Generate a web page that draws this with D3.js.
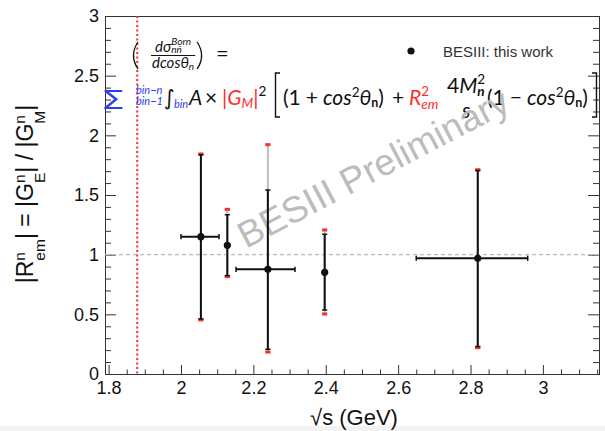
<!DOCTYPE html>
<html>
<head>
<meta charset="utf-8">
<script src="https://cdn.jsdelivr.net/npm/d3@7"></script>
<style>
  body { margin: 0; background: #fff; }
  svg { display: block; }
  text { white-space: pre; }
</style>
</head>
<body>
<svg id="chart" width="605" height="431"></svg>
<script>
// Ratio |G_E/G_M| of the neutron per energy bin
const energy    = [2.055, 2.128, 2.240, 2.397, 2.820];
const binLow    = [2.000, 2.128, 2.152, 2.397, 2.650];
const binHigh   = [2.105, 2.128, 2.315, 2.397, 2.958];
const ratio     = [1.151, 1.078, 0.877, 0.852, 0.970];
const statUp    = [0.686, 0.257, 0.665, 0.319, 0.735];
const statDown  = [0.690, 0.254, 0.670, 0.316, 0.740];
const totalUp   = [0.693, 0.302, 1.045, 0.355, 0.742];
const totalDown = [0.698, 0.262, 0.693, 0.349, 0.750];
const threshold = 1.8791;            // 2 m_n (GeV)
const xTicks = [1.8, 2, 2.2, 2.4, 2.6, 2.8, 3];
const yTicks = [0, 0.5, 1, 1.5, 2, 2.5, 3];
const legendLabel = "BESIII: this work";
const watermark = "BESIII Preliminary";

const points = energy.map((e, i) => ({
  e, lo: binLow[i], hi: binHigh[i], r: ratio[i],
  su: statUp[i], sd: statDown[i], tu: totalUp[i], td: totalDown[i]
}));

const svg = d3.select("#chart");
const x = d3.scaleLinear([1.79, 3.155], [105, 599]);
const y = d3.scaleLinear([0, 3], [374, 16]);
const sans = "'Liberation Sans', Arial, Helvetica, sans-serif";
const math = "Lato, 'Open Sans', 'DejaVu Sans', sans-serif";
const symb = "'DejaVu Sans', sans-serif";
const BLUE = "#2c3cf0", RED = "#ff2d2d", INK = "#111";

svg.append("rect").attr("x", 0).attr("y", 426).attr("width", 605).attr("height", 5).attr("fill", "#f3f3f3");

// ---- axes -------------------------------------------------------------
const xMinor = d3.range(0, 28).map(i => +(1.8 + 0.05 * i).toFixed(2)).filter(v => !xTicks.includes(v));
const yMinor = d3.range(0, 31).map(i => +(0.1 * i).toFixed(1)).filter(v => !yTicks.includes(v));

function styleAxis(g) {
  g.select(".domain").remove();
  g.selectAll(".tick line").attr("stroke", "#333");
  g.selectAll(".tick text").attr("font-family", sans).attr("font-size", 18).attr("fill", INK);
}

svg.append("g").attr("transform", `translate(0,${y(0)})`)
  .call(d3.axisBottom(x).tickValues(xMinor).tickSize(-4.5).tickFormat("")).call(styleAxis);
svg.append("g").attr("transform", `translate(0,${y(0)})`)
  .call(d3.axisBottom(x).tickValues(xTicks).tickSize(-9).tickPadding(7).tickFormat(d3.format("~g"))).call(styleAxis);

svg.append("g").attr("transform", `translate(${x.range()[0]},0)`)
  .call(d3.axisLeft(y).tickValues(yMinor).tickSize(-6).tickFormat("")).call(styleAxis);
svg.append("g").attr("transform", `translate(${x.range()[0]},0)`)
  .call(d3.axisLeft(y).tickValues(yTicks).tickSize(-11).tickPadding(6).tickFormat(d3.format("~g"))).call(styleAxis);

svg.append("g").attr("transform", `translate(${x.range()[1]},0)`)
  .call(d3.axisRight(y).tickValues(yMinor).tickSize(-6).tickFormat("")).call(styleAxis);
svg.append("g").attr("transform", `translate(${x.range()[1]},0)`)
  .call(d3.axisRight(y).tickValues(yTicks).tickSize(-11).tickFormat("")).call(styleAxis);

svg.append("rect")
  .attr("x", x.range()[0] + 0.5).attr("y", y(3) + 0.5)
  .attr("width", x.range()[1] - x.range()[0]).attr("height", y(0) - y(3))
  .attr("fill", "none").attr("stroke", "#333").attr("stroke-width", 1);

// ---- reference lines --------------------------------------------------
svg.append("line")
  .attr("x1", x.range()[0]).attr("x2", x.range()[1]).attr("y1", y(1)).attr("y2", y(1))
  .attr("stroke", "#bbb").attr("stroke-width", 1.2).attr("stroke-dasharray", "4,3");
svg.append("line")
  .attr("x1", x(threshold)).attr("x2", x(threshold)).attr("y1", y(3)).attr("y2", y(0))
  .attr("stroke", "#ff2a2a").attr("stroke-width", 2).attr("stroke-dasharray", "2,2.5");

// ---- a tiny math typesetter ------------------------------------------
// items flow left to right; `at` pins an item to an absolute x,
// `stack` places a script directly under/over the previous one,
// `sx` stretches a glyph horizontally.
function typeset(g, x0, y0, items) {
  let cx = x0, px = x0;
  for (const it of items) {
    if (it.at != null) cx = it.at;
    if (it.gap != null) { cx += it.gap; continue; }
    if (it.type === "bracket") {
      const w = 6, [t, b] = it.span;
      const d = it.side === "l"
        ? `M${cx + w},${y0 + t}H${cx + 1.5}V${y0 + b}H${cx + w}`
        : `M${cx},${y0 + t}H${cx + w - 1.5}V${y0 + b}H${cx}`;
      g.append("path").attr("d", d).attr("fill", "none").attr("stroke", INK).attr("stroke-width", 1.4);
      px = cx; cx += w; continue;
    }
    if (it.type === "paren") {
      const w = 8, [t, b] = it.span, m = (t + b) / 2;
      const d = it.side === "l"
        ? `M${cx + w - 1},${y0 + t}Q${cx - 2},${y0 + m} ${cx + w - 1},${y0 + b}`
        : `M${cx + 1},${y0 + t}Q${cx + w + 2},${y0 + m} ${cx + 1},${y0 + b}`;
      g.append("path").attr("d", d).attr("fill", "none").attr("stroke", INK).attr("stroke-width", 1.3);
      px = cx; cx += w; continue;
    }
    if (it.type === "frac") {
      const gn = g.append("g"), gd = g.append("g");
      const wn = typeset(gn, 0, y0 + it.numDy, it.num);
      const wd = typeset(gd, 0, y0 + it.denDy, it.den);
      const w = Math.max(wn, wd) + 2;
      gn.attr("transform", `translate(${cx + (w - wn) / 2},0)`);
      gd.attr("transform", `translate(${cx + (w - wd) / 2},0)`);
      if (it.bar) {
        g.append("line").attr("x1", cx).attr("x2", cx + w)
          .attr("y1", y0 + it.barDy).attr("y2", y0 + it.barDy)
          .attr("stroke", INK).attr("stroke-width", it.bar);
      }
      px = cx; cx += w; continue;
    }
    const t = g.append("text")
      .attr("font-family", it.fam || math)
      .attr("font-size", it.fs || 21)
      .attr("font-style", it.it ? "italic" : "normal")
      .attr("font-weight", it.b ? "bold" : "normal")
      .attr("fill", it.c || INK)
      .text(it.t);
    const sx = it.sx || 1;
    const w = t.node().getComputedTextLength() * sx;
    const tx = it.stack ? px : cx;
    if (sx !== 1) {
      t.attr("x", 0).attr("y", 0)
        .attr("transform", `translate(${tx},${y0 + (it.sh || 0)}) scale(${sx},1)`);
    } else {
      t.attr("x", tx).attr("y", y0 + (it.sh || 0));
    }
    if (it.stack) { cx = Math.max(cx, px + w); }
    else { px = cx; cx += w; }
  }
  return cx - x0;
}

// ---- formula ----------------------------------------------------------
const line1 = [
  { type: "paren", side: "l", span: [-19, 8] },
  { gap: 12 },
  { type: "frac", numDy: -9, denDy: 6.5, barDy: -5.5, bar: 1,
    num: [{ t: "dσ", fs: 15, it: true },
          { t: "Born", fs: 10, it: true, sh: -7 },
          { t: "nn̄", fs: 10, it: true, sh: 1, stack: true }],
    den: [{ t: "dcosθ", fs: 15, it: true },
          { t: "n", fs: 10, it: true, sh: 2 }] },
  { gap: 1 },
  { type: "paren", side: "r", span: [-19, 8] },
  { gap: 12 },
  { t: "=", fs: 22 }
];
const gLine1 = svg.append("g");
typeset(gLine1, 131, 61, line1);

const line2 = [
  { at: 104, t: "∑", fs: 21, c: BLUE, fam: symb, sx: 1.35 },
  { at: 136, t: "bin−n", fs: 11, it: true, c: BLUE, sh: -11 },
  { t: "bin−1", fs: 11, it: true, c: BLUE, sh: 0, stack: true },
  { at: 164, t: "∫", fs: 21, fam: symb },
  { at: 174, t: "bin", fs: 11, it: true, c: BLUE, sh: 3 },
  { at: 189, t: "A", it: true },
  { at: 205, t: "×" },
  { at: 222, t: "|", c: RED }, { t: "G", it: true, c: RED },
  { t: "M", fs: 13.5, it: true, c: RED, sh: 3 },
  { t: "|", c: RED },
  { t: "2", fs: 13.5, sh: -9 },
  { at: 274, type: "bracket", side: "l", span: [-32, 12] },
  { at: 283, t: "(1" }, { gap: 5 }, { t: "+" }, { gap: 5 },
  { t: "cos", it: true }, { t: "2", fs: 13.5, sh: -8 },
  { t: "θ", it: true }, { t: "n", fs: 12.5, b: true, sh: 2 }, { t: ")" },
  { at: 392, t: "+" },
  { at: 409, t: "R", it: true, c: RED },
  { t: "2", fs: 13.5, c: RED, sh: -9 },
  { t: "em", fs: 13.5, it: true, c: RED, sh: 4, stack: true },
  { at: 446, type: "frac", numDy: -12, denDy: 13, barDy: -6, bar: 0,
    num: [{ t: "4" }, { t: "M", it: true },
          { t: "2", fs: 13.5, sh: -9 }, { t: "n", fs: 13.5, it: true, b: true, sh: 3, stack: true }],
    den: [{ t: "s", it: true }] },
  { at: 487, t: "(1" }, { gap: 5 }, { t: "−" }, { gap: 5 },
  { t: "cos", it: true }, { t: "2", fs: 13.5, sh: -8 },
  { t: "θ", it: true }, { t: "n", fs: 12.5, b: true, sh: 2 }, { t: ")" },
  { at: 592, type: "bracket", side: "r", span: [-32, 12] }
];
const gLine2 = svg.append("g");
typeset(gLine2, 104, 105, line2);

// ---- watermark --------------------------------------------------------
svg.append("text")
  .attr("transform", "translate(246,249) rotate(-27.6)")
  .attr("font-family", sans).attr("font-size", 37)
  .attr("fill", "#b8b8b8").attr("fill-opacity", 0.95)
  .text(watermark);

// ---- data -------------------------------------------------------------
const gData = svg.append("g");
const cap = 2.6;

// total uncertainty: light line with red end caps
gData.selectAll(".tot").data(points).join("line")
  .attr("x1", d => x(d.e)).attr("x2", d => x(d.e))
  .attr("y1", d => y(d.r + d.tu)).attr("y2", d => y(d.r - d.td))
  .attr("stroke", "#bdbdbd").attr("stroke-width", 2);
gData.selectAll(".totcap").data(points.flatMap(d => [d.r + d.tu, d.r - d.td].map(v => ({ e: d.e, v }))))
  .join("rect")
  .attr("x", d => x(d.e) - cap).attr("y", d => y(d.v) - 1.5)
  .attr("width", 2 * cap).attr("height", 3).attr("fill", RED);

// statistical uncertainty: black line with black caps
gData.selectAll(".stat").data(points).join("line")
  .attr("x1", d => x(d.e)).attr("x2", d => x(d.e))
  .attr("y1", d => y(d.r + d.su)).attr("y2", d => y(d.r - d.sd))
  .attr("stroke", INK).attr("stroke-width", 2);
gData.selectAll(".statcap").data(points.flatMap(d => [d.r + d.su, d.r - d.sd].map(v => ({ e: d.e, v }))))
  .join("line")
  .attr("x1", d => x(d.e) - cap).attr("x2", d => x(d.e) + cap)
  .attr("y1", d => y(d.v)).attr("y2", d => y(d.v))
  .attr("stroke", INK).attr("stroke-width", 1.5);

// energy bin widths
const wide = points.filter(d => d.hi > d.lo);
gData.selectAll(".bin").data(wide).join("line")
  .attr("x1", d => x(d.lo)).attr("x2", d => x(d.hi))
  .attr("y1", d => y(d.r)).attr("y2", d => y(d.r))
  .attr("stroke", INK).attr("stroke-width", 2);
gData.selectAll(".bincap").data(wide.flatMap(d => [d.lo, d.hi].map(v => ({ v, r: d.r }))))
  .join("line")
  .attr("x1", d => x(d.v)).attr("x2", d => x(d.v))
  .attr("y1", d => y(d.r) - cap).attr("y2", d => y(d.r) + cap)
  .attr("stroke", INK).attr("stroke-width", 1.5);

gData.selectAll(".pt").data(points).join("circle")
  .attr("cx", d => x(d.e)).attr("cy", d => y(d.r)).attr("r", 3.6).attr("fill", INK);

// ---- legend -----------------------------------------------------------
svg.append("circle").attr("cx", 411).attr("cy", 51).attr("r", 3.6).attr("fill", INK);
svg.append("text").attr("x", 443).attr("y", 56.5)
  .attr("font-family", sans).attr("font-size", 15).attr("fill", "#333").text(legendLabel);

// ---- axis titles ------------------------------------------------------
svg.append("text").attr("x", 354).attr("y", 425).attr("text-anchor", "middle")
  .attr("font-family", sans).attr("font-size", 22).attr("fill", INK).text("√s (GeV)");

const yTitle = [
  { t: "|R", fs: 23, fam: sans },
  { t: "n", fs: 15.5, fam: sans, sh: -8 },
  { t: "em", fs: 15.5, fam: sans, sh: 12, stack: true },
  { t: "| = |G", fs: 23, fam: sans },
  { t: "n", fs: 15.5, fam: sans, sh: -8 },
  { t: "E", fs: 15.5, fam: sans, sh: 12, stack: true },
  { t: "| / |G", fs: 23, fam: sans },
  { t: "n", fs: 15.5, fam: sans, sh: -8 },
  { t: "M", fs: 15.5, fam: sans, sh: 12, stack: true },
  { t: "|", fs: 23, fam: sans }
];
const gY = svg.append("g");
const yW = typeset(gY, 0, 0, yTitle);
gY.attr("transform", `translate(33,194) rotate(-90) translate(${-yW / 2},0)`);
</script>
</body>
</html>
